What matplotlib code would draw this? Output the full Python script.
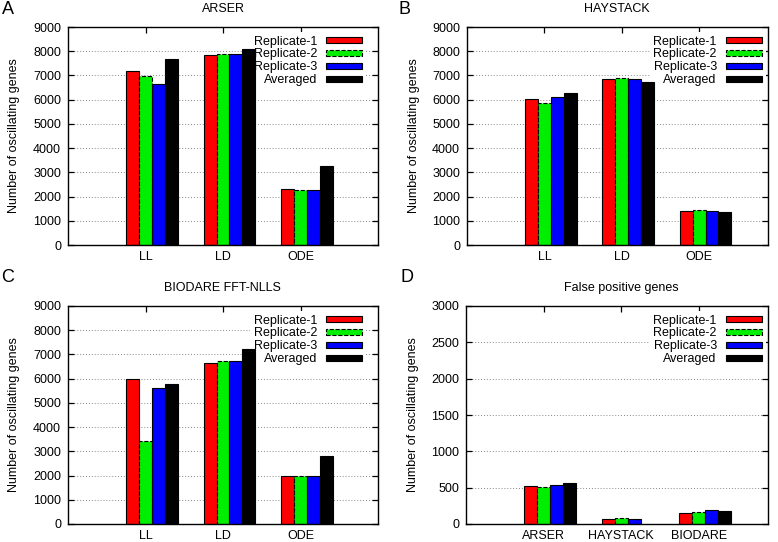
import numpy as np
import matplotlib
matplotlib.use('Agg')
import matplotlib.pyplot as plt
from matplotlib.patches import Patch

plt.rcParams['font.family'] = ['Liberation Sans', 'DejaVu Sans']

# ---------------- data ----------------
series = ['Replicate-1', 'Replicate-2', 'Replicate-3', 'Averaged']
conditions = ['LL', 'LD', 'ODE']
methods = ['ARSER', 'HAYSTACK', 'BIODARE']

arser_rep1 = [7170, 7830, 2310]
arser_rep2 = [6960, 7870, 2280]
arser_rep3 = [6660, 7870, 2280]
arser_avg = [7690, 8100, 3270]

haystack_rep1 = [6020, 6840, 1410]
haystack_rep2 = [5880, 6900, 1430]
haystack_rep3 = [6090, 6870, 1410]
haystack_avg = [6280, 6720, 1350]

biodare_rep1 = [6000, 6650, 1990]
biodare_rep2 = [3410, 6720, 1990]
biodare_rep3 = [5620, 6720, 1990]
biodare_avg = [5770, 7210, 2790]

fp_rep1 = [525, 73, 156]
fp_rep2 = [506, 87, 170]
fp_rep3 = [536, 73, 188]
fp_avg = [560, np.nan, 179]

# ---------------- style ----------------
colors = ['#ff0000', '#00ee00', '#0000ff', '#000000']
edge_styles = ['-', '--', '-', '-']
W, H = 778, 542

fig = plt.figure(figsize=(W / 100, H / 100), dpi=100)


def px_axes(left, top, right, bottom):
    return [left / W, 1 - bottom / H, (right - left) / W, (bottom - top) / H]


def panel(rect, data, cats, ymax, ystep, title, title_xy, label, label_xy,
          xlim, leg_x):
    ax = fig.add_axes(px_axes(*rect))
    x = np.arange(len(cats))
    bw = 0.1667
    for i, (vals, c, ls) in enumerate(zip(data, colors, edge_styles)):
        ax.bar(x - 0.25 + i * bw, vals, width=bw, align='edge', color=c,
               edgecolor='black', linewidth=0.8, linestyle=ls, zorder=2)
    ax.set_xlim(*xlim)
    ax.set_ylim(0, ymax)
    ax.set_yticks(np.arange(0, ymax + 1, ystep))
    ax.set_xticks(x)
    ax.set_xticklabels(cats)
    ax.tick_params(direction='in', length=4.5, width=0.9, top=True, right=True,
                   labelsize=9, color='black')
    ax.tick_params(axis='x', pad=4)
    ax.tick_params(axis='y', pad=5)
    ax.grid(axis='y', color='#888888', linestyle=(0, (1, 2)), linewidth=0.7)
    ax.set_axisbelow(True)
    for s in ax.spines.values():
        s.set_linewidth(1.0)
    ax.set_ylabel('Number of oscillating genes', fontsize=9)
    ax.yaxis.set_label_coords(-0.155, 0.5)
    handles = [Patch(facecolor=c, edgecolor='black', linewidth=0.8, linestyle=ls)
               for c, ls in zip(colors, edge_styles)]
    leg = ax.legend(handles, series, loc='upper right',
                    bbox_to_anchor=(leg_x, 0.978), borderaxespad=0,
                    borderpad=0.3, markerfirst=False, frameon=True,
                    fancybox=False, edgecolor='none', framealpha=1,
                    handlelength=2.9, handleheight=0.4, handletextpad=0.7,
                    labelspacing=0.07, fontsize=9)
    leg.set_zorder(1.5)
    fig.text(title_xy[0] / W, 1 - title_xy[1] / H, title, ha='center',
             va='center', fontsize=9)
    fig.text(label_xy[0] / W, 1 - label_xy[1] / H, label, ha='center',
             va='center', fontsize=13)
    return ax


panel((68, 27, 378, 245),
      [arser_rep1, arser_rep2, arser_rep3, arser_avg], conditions,
      9000, 1000, 'ARSER', (223, 9.5), 'A', (8, 10), (-1, 3), 0.961)
panel((467, 27, 768, 245),
      [haystack_rep1, haystack_rep2, haystack_rep3, haystack_avg], conditions,
      9000, 1000, 'HAYSTACK', (617, 9.5), 'B', (405, 10), (-1, 2.89), 0.992)
panel((68, 306, 378, 524),
      [biodare_rep1, biodare_rep2, biodare_rep3, biodare_avg], conditions,
      9000, 1000, 'BIODARE FFT-NLLS', (222, 288), 'C', (8, 277), (-1, 3), 0.961)
panel((466, 306, 768, 524),
      [fp_rep1, fp_rep2, fp_rep3, fp_avg], methods,
      3000, 500, 'False positive genes', (621, 288), 'D', (407, 277),
      (-1, 2.89), 0.992)

fig.savefig('out.png', dpi=100)
